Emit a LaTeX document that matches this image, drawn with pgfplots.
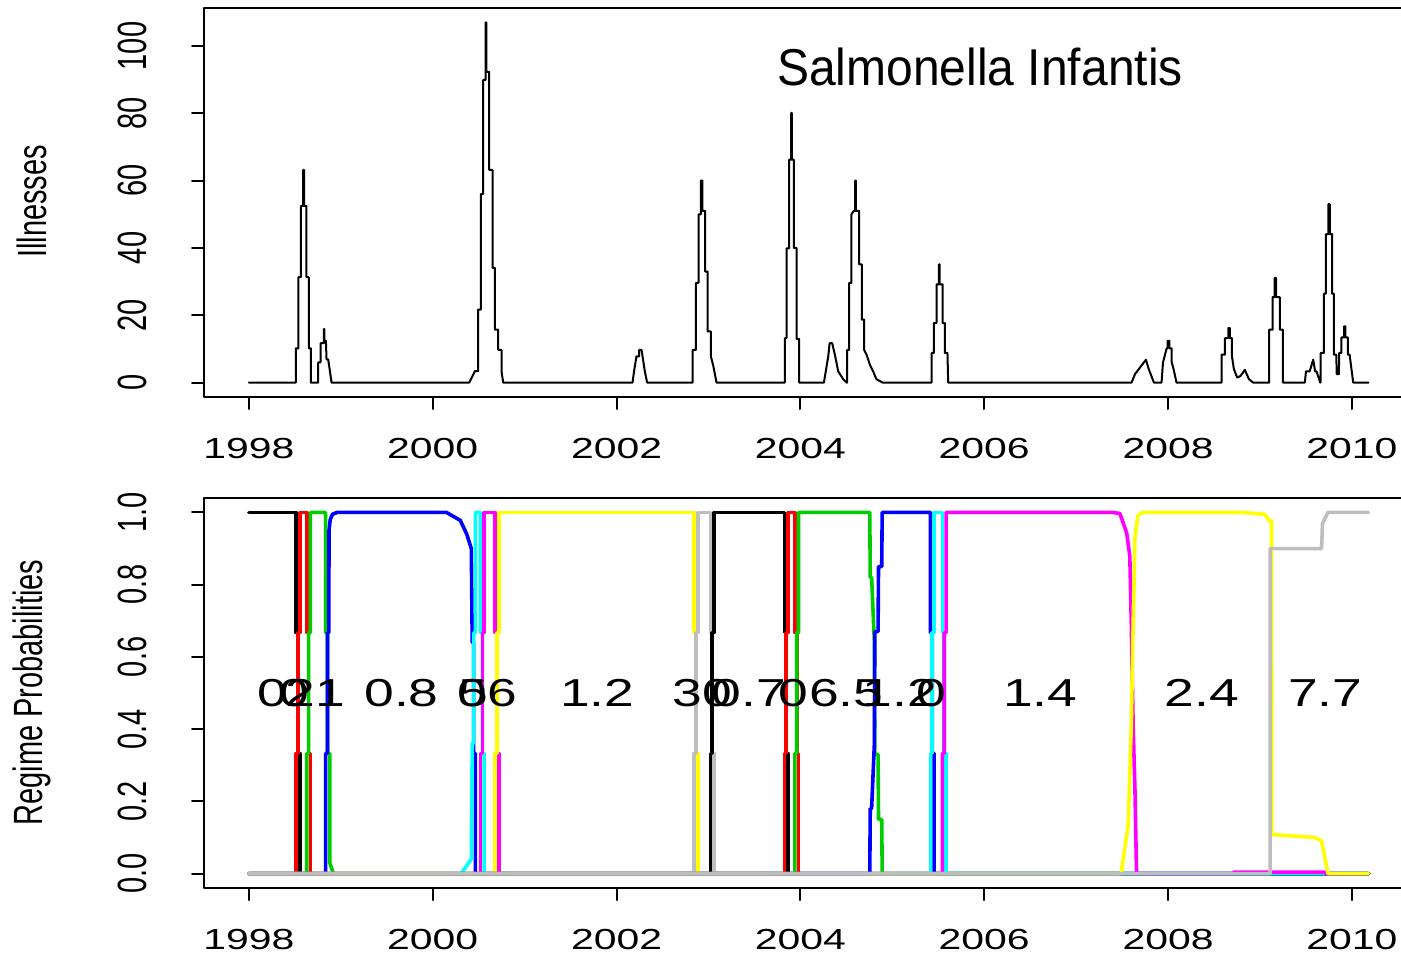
\documentclass[border=0pt]{standalone}
\usepackage{pgfplots}
\pgfplotsset{compat=1.18}
\usepackage{fontspec}
\setmainfont{Liberation Sans}
\usepackage{graphicx}

% horizontally widened text (ticks, panel labels) and its rotated counterpart
\newcommand\xs[1]{\scalebox{1.41}[1]{#1}}
\newcommand\ys[1]{\scalebox{1}[1.41]{#1}}
\newcommand\lab[1]{\scalebox{1.37}[1]{#1}}
\newcommand\tickfont{\fontsize{14.5}{14.5}\selectfont}

\definecolor{rblack}{RGB}{0,0,0}
\definecolor{rred}{RGB}{255,0,0}
\definecolor{rgreen}{RGB}{0,205,0}
\definecolor{rblue}{RGB}{0,0,255}
\definecolor{rcyan}{RGB}{0,255,255}
\definecolor{rmagenta}{RGB}{255,0,255}
\definecolor{ryellow}{RGB}{255,255,0}
\definecolor{rgray}{RGB}{190,190,190}

\pgfplotsset{
  rpanel/.style={
    scale only axis, width=605.2pt,
    xmin=1997.512, xmax=2010.68,
    axis line style={line width=1pt},
    tick align=outside, major tick length=6pt,
    tick style={black, line width=1pt},
    xtick pos=bottom, ytick pos=left,
    xtick={1998,2000,2002,2004,2006,2008,2010},
    xticklabels={\xs{1998},\xs{2000},\xs{2002},\xs{2004},\xs{2006},\xs{2008},\xs{2010}},
    xticklabel style={font=\tickfont, anchor=center, inner sep=0pt},
    xticklabel shift=20pt,
    yticklabel style={font=\tickfont, rotate=90, anchor=center, inner sep=0pt},
    yticklabel shift=30pt,
    line join=round, line cap=round,
  },
  regime/.style={line width=1.8pt, #1, no markers},
}

\begin{document}
\begin{tikzpicture}

% ---------------- illnesses ----------------
\begin{axis}[rpanel, at={(102pt,278.5pt)}, anchor=south west, height=194.5pt,
  ymin=-4.28, ymax=111.28,
  ytick={0,20,40,60,80,100},
  yticklabels={\ys{0},\ys{20},\ys{40},\ys{60},\ys{80},\ys{100}}]
\addplot[black, line width=1pt, no markers] coordinates {
(1998.000,0)(1998.511,0)(1998.511,10.2)(1998.540,10.2)(1998.540,31.3)(1998.566,31.3)(1998.566,52.5)
(1998.591,52.5)(1998.591,63.2)(1998.600,63.2)(1998.600,52.5)(1998.627,52.5)(1998.627,31.3)
(1998.653,31.3)(1998.653,10.2)(1998.674,10.2)(1998.674,0)
(1998.754,0)(1998.754,6.0)(1998.780,6.0)(1998.780,11.7)(1998.815,11.7)(1998.815,15.9)(1998.822,15.9)
(1998.822,12.4)(1998.838,12.4)(1998.845,6.9)(1998.863,6.9)(1998.900,0)
(2000.397,0)(2000.422,1.3)(2000.459,3.4)(2000.495,3.4)(2000.495,21.7)(2000.524,21.7)(2000.524,56)
(2000.549,56)(2000.549,89.9)(2000.576,89.9)(2000.576,107)(2000.584,107)(2000.584,92.3)
(2000.615,92.3)(2000.615,63.2)(2000.651,63.2)(2000.651,34.1)(2000.676,34.1)(2000.676,15.7)
(2000.713,15.7)(2000.713,9.7)(2000.749,9.7)(2000.749,3.3)(2000.767,0)
(2002.174,0)(2002.190,3.3)(2002.217,7.8)(2002.247,7.8)(2002.247,9.7)(2002.272,9.7)(2002.283,7.8)
(2002.308,3.3)(2002.333,0)
(2002.827,0)(2002.827,9.7)(2002.863,9.7)(2002.863,29.6)(2002.892,29.6)(2002.892,50)(2002.917,50)
(2002.917,60)(2002.935,60)(2002.935,51)(2002.965,51)(2002.965,33)(2002.990,33)(2002.990,15.2)
(2003.026,15.2)(2003.026,7.8)(2003.052,5)(2003.088,0)
(2003.831,0)(2003.831,13.2)(2003.849,13.2)(2003.849,39.9)(2003.878,39.9)(2003.878,66.2)
(2003.900,66.2)(2003.900,80.1)(2003.908,80.1)(2003.908,66.2)(2003.929,66.2)(2003.929,40)
(2003.958,40)(2003.958,13)(2003.987,13)(2003.987,0)
(2004.256,0)(2004.303,7.8)(2004.318,11.7)(2004.346,11.7)(2004.375,8.3)(2004.412,3.3)(2004.466,1)
(2004.502,0)
(2004.509,0)(2004.509,9.7)(2004.531,9.7)(2004.531,29.6)(2004.556,29.6)(2004.556,50)(2004.580,51)
(2004.596,51)(2004.596,60)(2004.604,60)(2004.604,51)(2004.640,51)(2004.640,35.1)(2004.669,35.1)
(2004.669,18.7)(2004.694,18.7)(2004.694,9.7)(2004.720,8.3)(2004.756,5.3)(2004.792,3.3)(2004.828,1)
(2004.894,0)
(2005.427,0)(2005.427,8.8)(2005.452,8.8)(2005.452,17.7)(2005.481,17.7)(2005.481,29.2)(2005.507,29.2)
(2005.507,35.1)(2005.516,35.1)(2005.516,29.2)(2005.547,29.2)(2005.547,17.7)(2005.572,17.7)
(2005.572,8.8)(2005.600,8.8)(2005.608,0)
(2007.603,0)(2007.640,2.5)(2007.759,6.8)(2007.790,4.0)(2007.846,0)
(2007.929,0)(2007.945,6)(2007.985,10.2)(2007.995,10.2)(2007.995,12.4)(2008.015,12.4)(2008.015,10.2)
(2008.040,10.2)(2008.040,6)(2008.060,4)(2008.092,0)
(2008.582,0)(2008.582,8.3)(2008.618,8.3)(2008.618,13.2)(2008.655,13.2)(2008.655,16.2)(2008.672,16.2)
(2008.672,13.2)(2008.695,13.2)(2008.695,7.8)(2008.716,4)(2008.752,1.5)(2008.790,2)(2008.835,3.8)
(2008.880,1)(2008.926,0)
(2009.100,0)(2009.100,15.7)(2009.137,15.7)(2009.137,25.4)(2009.160,25.4)(2009.160,31.1)(2009.175,31.1)
(2009.175,25.4)(2009.215,25.4)(2009.215,15.7)(2009.250,15.7)(2009.250,0)
(2009.488,0)(2009.500,3.3)(2009.540,3.3)(2009.579,6.8)(2009.600,3.3)(2009.615,3.3)(2009.644,1)
(2009.655,0)
(2009.659,0)(2009.659,8.8)(2009.695,8.8)(2009.695,26.4)(2009.717,26.4)(2009.717,44.1)(2009.745,44.1)
(2009.745,53)(2009.760,53)(2009.760,44.1)(2009.785,44.1)(2009.785,26.4)(2009.804,26.4)(2009.804,8.3)
(2009.830,8.3)(2009.835,2.5)(2009.858,2.5)(2009.862,8.8)(2009.885,8.8)(2009.885,13.4)(2009.915,13.4)
(2009.915,16.7)(2009.930,16.7)(2009.930,13.4)(2009.955,13.4)(2009.955,8.3)(2009.975,8.3)(2010.014,0)
(2010.180,0)
};
\end{axis}

% ---------------- regime probabilities ----------------
\begin{axis}[rpanel, at={(102pt,33pt)}, anchor=south west, height=195pt,
  ymin=-0.04, ymax=1.04,
  ytick={0,0.2,0.4,0.6,0.8,1},
  yticklabels={\ys{0.0},\ys{0.2},\ys{0.4},\ys{0.6},\ys{0.8},\ys{1.0}}]
% regime 1
\addplot[regime=rblack] coordinates {(1998.000,1)(1998.515,1)(1998.515,0.667)(1998.535,0.667)(1998.535,0.333)(1998.555,0.333)(1998.555,0)(2010.180,0)};
% regime 2
\addplot[regime=rred] coordinates {(1998.000,0)(1998.515,0)(1998.515,0.333)(1998.535,0.333)(1998.535,0.667)(1998.555,0.667)(1998.555,1)(1998.630,1)(1998.630,0.667)(1998.650,0.667)(1998.650,0.333)(1998.670,0.333)(1998.670,0)(2010.180,0)};
% regime 3
\addplot[regime=rgreen] coordinates {(1998.000,0)(1998.630,0)(1998.630,0.333)(1998.650,0.333)(1998.650,0.667)(1998.670,0.667)(1998.670,1)(1998.835,1)(1998.835,0.667)(1998.855,0.667)(1998.855,0.333)(1998.880,0.333)(1998.880,0.03)(1998.920,0)(2010.180,0)};
% regime 4
\addplot[regime=rblue] coordinates {(1998.000,0)(1998.835,0)(1998.835,0.333)(1998.855,0.333)(1998.855,0.667)(1998.870,0.667)(1998.872,0.95)(1998.885,0.98)(1998.910,0.995)(1998.960,1)(2000.150,1)(2000.300,0.978)(2000.370,0.94)(2000.420,0.90)(2000.430,0.64)(2000.445,0.64)(2000.445,0.333)(2000.465,0.333)(2000.465,0)(2010.180,0)};
% regime 5
\addplot[regime=rcyan] coordinates {(1998.000,0)(2000.310,0)(2000.420,0.04)(2000.430,0.36)(2000.445,0.36)(2000.445,0.667)(2000.465,0.667)(2000.465,1)(2000.520,1)(2000.520,0.667)(2000.540,0.667)(2000.540,0.333)(2000.560,0.333)(2000.560,0)(2010.180,0)};
% regime 6
\addplot[regime=rmagenta] coordinates {(1998.000,0)(2000.520,0)(2000.520,0.333)(2000.540,0.333)(2000.540,0.667)(2000.560,0.667)(2000.560,1)(2000.680,1)(2000.680,0.667)(2000.700,0.667)(2000.700,0.333)(2000.720,0.333)(2000.720,0)(2010.180,0)};
% regime 7
\addplot[regime=ryellow] coordinates {(1998.000,0)(2000.680,0)(2000.680,0.333)(2000.700,0.333)(2000.700,0.667)(2000.720,0.667)(2000.720,1)(2002.845,1)(2002.845,0.667)(2002.865,0.667)(2002.865,0.333)(2002.885,0.333)(2002.885,0)(2010.180,0)};
% regime 8
\addplot[regime=rgray] coordinates {(1998.000,0)(2002.845,0)(2002.845,0.333)(2002.865,0.333)(2002.865,0.667)(2002.885,0.667)(2002.885,1)(2003.020,1)(2003.020,0.667)(2003.040,0.667)(2003.040,0.333)(2003.060,0.333)(2003.060,0)(2010.180,0)};
% regime 9
\addplot[regime=rblack] coordinates {(1998.000,0)(2003.020,0)(2003.020,0.333)(2003.040,0.333)(2003.040,0.667)(2003.060,0.667)(2003.060,1)(2003.825,1)(2003.825,0.667)(2003.845,0.667)(2003.845,0.333)(2003.865,0.333)(2003.865,0)(2010.180,0)};
% regime 10
\addplot[regime=rred] coordinates {(1998.000,0)(2003.825,0)(2003.825,0.333)(2003.845,0.333)(2003.845,0.667)(2003.865,0.667)(2003.865,1)(2003.940,1)(2003.940,0.667)(2003.960,0.667)(2003.960,0.333)(2003.980,0.333)(2003.980,0)(2010.180,0)};
% regime 11
\addplot[regime=rgreen] coordinates {(1998.000,0)(2003.940,0)(2003.940,0.333)(2003.960,0.333)(2003.960,0.667)(2003.980,0.667)(2003.980,1)(2004.755,1)(2004.760,0.82)(2004.775,0.82)(2004.805,0.64)(2004.810,0.33)(2004.845,0.33)(2004.850,0.15)(2004.885,0.15)(2004.890,0)(2010.180,0)};
% regime 12
\addplot[regime=rblue] coordinates {(1998.000,0)(2004.755,0)(2004.760,0.18)(2004.775,0.18)(2004.805,0.36)(2004.810,0.67)(2004.845,0.67)(2004.850,0.85)(2004.885,0.85)(2004.890,1)(2005.415,1)(2005.415,0.667)(2005.435,0.667)(2005.435,0.333)(2005.455,0.333)(2005.455,0)(2010.180,0)};
% regime 13
\addplot[regime=rcyan] coordinates {(1998.000,0)(2005.415,0)(2005.415,0.333)(2005.435,0.333)(2005.435,0.667)(2005.455,0.667)(2005.455,1)(2005.545,1)(2005.545,0.667)(2005.565,0.667)(2005.565,0.333)(2005.585,0.333)(2005.585,0)(2010.180,0)};
% regime 14
\addplot[regime=rmagenta] coordinates {(1998.000,0)(2005.545,0)(2005.545,0.333)(2005.565,0.333)(2005.565,0.667)(2005.585,0.667)(2005.585,1)(2007.400,1)(2007.476,0.997)(2007.550,0.943)(2007.584,0.878)(2007.600,0.69)(2007.620,0.41)(2007.640,0.23)(2007.657,0)(2008.700,0)(2008.720,0.004)(2009.700,0.004)(2009.720,0)(2010.180,0)};
% regime 15
\addplot[regime=ryellow] coordinates {(1998.000,0)(2007.490,0)(2007.566,0.135)(2007.600,0.41)(2007.620,0.69)(2007.640,0.93)(2007.670,0.99)(2007.720,1)(2008.800,1)(2009.050,0.995)(2009.100,0.977)(2009.125,0.977)(2009.130,0.108)(2009.600,0.100)(2009.670,0.090)(2009.740,0)(2010.180,0)};
% regime 16
\addplot[regime=rgray] coordinates {(1998.000,0)(2009.110,0)(2009.112,0.90)(2009.670,0.90)(2009.680,0.97)(2009.740,1)(2010.180,1)};

% mean level of each regime
\begin{scope}[every node/.style={font=\fontsize{19.5}{19.5}\selectfont, inner sep=0pt, anchor=center}]
\node at (axis cs:1998.26,0.5) {\lab{0}};
\node at (axis cs:1998.49,0.5) {\lab{0}};
\node at (axis cs:1998.72,0.5) {\lab{21}};
\node at (axis cs:1999.66,0.5) {\lab{0.8}};
\node at (axis cs:2000.43,0.5) {\lab{0}};
\node at (axis cs:2000.60,0.5) {\lab{56}};
\node at (axis cs:2001.79,0.5) {\lab{1.2}};
\node at (axis cs:2002.93,0.5) {\lab{30}};
\node at (axis cs:2003.44,0.5) {\lab{0.7}};
\node at (axis cs:2003.92,0.5) {\lab{0}};
\node at (axis cs:2004.50,0.5) {\lab{6.5}};
\node at (axis cs:2005.08,0.5) {\lab{1.2}};
\node at (axis cs:2005.42,0.5) {\lab{0}};
\node at (axis cs:2006.61,0.5) {\lab{1.4}};
\node at (axis cs:2008.37,0.5) {\lab{2.4}};
\node at (axis cs:2009.71,0.5) {\lab{7.7}};
\end{scope}
\end{axis}

% axis titles and panel title
\node[rotate=90, font=\tickfont] at (16pt,376.25pt) {\ys{Illnesses}};
\node[rotate=90, font=\tickfont] at (16pt,130.75pt) {\ys{Regime Probabilities}};
\node[anchor=base, font=\fontsize{24}{24}\selectfont, inner sep=0pt] at (490pt,434pt) {\scalebox{1}[1.08]{Salmonella Infantis}};

\pgfresetboundingbox
\useasboundingbox (0,0) rectangle (700.5pt,477pt);
\end{tikzpicture}
\end{document}
